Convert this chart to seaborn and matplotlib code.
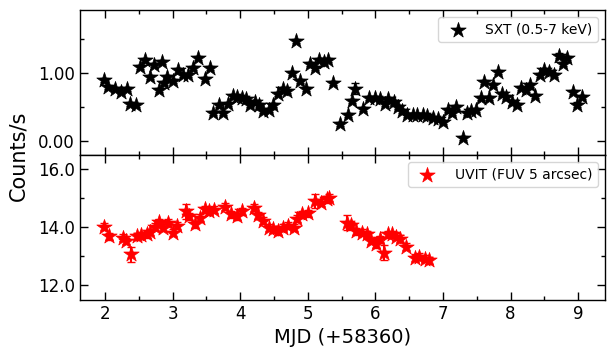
import numpy as np
import pandas as pd
import seaborn as sns
import matplotlib.pyplot as plt
from matplotlib.ticker import MultipleLocator, FormatStrFormatter

# SXT (0.5-7 keV) light curve
sxt_mjd = [1.99, 2.05, 2.15, 2.23, 2.32, 2.37, 2.46, 2.52, 2.59, 2.67, 2.72, 2.80,
           2.85, 2.87, 2.92, 3.01, 3.08, 3.16, 3.23, 3.30, 3.38, 3.48, 3.56, 3.60,
           3.68, 3.74, 3.82, 3.89, 3.96, 4.02, 4.09, 4.14, 4.22, 4.28, 4.34, 4.42,
           4.49, 4.56, 4.63, 4.70, 4.76, 4.83, 4.89, 4.97, 5.03, 5.11, 5.17, 5.24,
           5.30, 5.38, 5.47, 5.59, 5.65, 5.70, 5.82, 5.91, 5.99, 6.07, 6.14, 6.19,
           6.27, 6.34, 6.40, 6.47, 6.55, 6.62, 6.70, 6.77, 6.85, 6.93, 7.00, 7.08,
           7.14, 7.20, 7.29, 7.35, 7.42, 7.49, 7.56, 7.61, 7.68, 7.74, 7.82, 7.88,
           7.94, 8.02, 8.09, 8.15, 8.23, 8.29, 8.36, 8.43, 8.49, 8.57, 8.64, 8.71,
           8.77, 8.84, 8.92, 8.98, 9.05]
sxt_rate = [0.90, 0.80, 0.77, 0.72, 0.77, 0.55, 0.53, 1.09, 1.19, 0.95, 1.12, 0.75,
            1.16, 0.85, 0.95, 0.88, 1.04, 0.97, 0.97, 1.07, 1.23, 0.92, 1.07, 0.41,
            0.53, 0.42, 0.55, 0.67, 0.65, 0.64, 0.62, 0.53, 0.57, 0.53, 0.44, 0.46,
            0.53, 0.69, 0.77, 0.74, 1.00, 1.47, 0.88, 0.77, 1.14, 1.08, 1.19, 1.17,
            1.19, 0.85, 0.26, 0.39, 0.59, 0.77, 0.48, 0.64, 0.63, 0.62, 0.55, 0.62,
            0.57, 0.50, 0.44, 0.39, 0.39, 0.38, 0.39, 0.37, 0.34, 0.33, 0.28, 0.46,
            0.42, 0.50, 0.05, 0.41, 0.44, 0.46, 0.64, 0.87, 0.64, 0.83, 1.02, 0.70,
            0.65, 0.57, 0.53, 0.78, 0.75, 0.83, 0.67, 0.98, 1.04, 1.02, 0.97, 1.26,
            1.13, 1.22, 0.73, 0.54, 0.65]
sxt_err = [0.03] * len(sxt_rate)
sxt_err[sxt_mjd.index(5.70)] = 0.08

# UVIT (FUV 5 arcsec) light curve
uv_mjd = [1.99, 2.06, 2.26, 2.31, 2.39, 2.47, 2.54, 2.62, 2.67, 2.74, 2.80, 2.86,
          2.94, 3.01, 3.07, 3.20, 3.25, 3.33, 3.40, 3.48, 3.54, 3.61, 3.77, 3.86,
          3.95, 4.02, 4.20, 4.26, 4.34, 4.42, 4.49, 4.56, 4.64, 4.71, 4.79, 4.84,
          4.92, 5.01, 5.11, 5.19, 5.28, 5.32, 5.58, 5.64, 5.72, 5.81, 5.88, 5.94,
          6.01, 6.07, 6.13, 6.18, 6.24, 6.30, 6.37, 6.45, 6.58, 6.65, 6.73, 6.80]
uv_rate = [14.02, 13.70, 13.64, 13.53, 13.07, 13.70, 13.72, 13.76, 13.84, 14.02,
           14.18, 13.99, 14.16, 13.82, 14.05, 14.55, 14.39, 14.10, 14.33, 14.62,
           14.56, 14.60, 14.71, 14.45, 14.39, 14.56, 14.68, 14.42, 14.22, 13.99,
           13.93, 13.87, 13.99, 14.05, 13.99, 14.30, 14.45, 14.48, 14.91, 14.85,
           14.97, 15.02, 14.16, 14.07, 13.87, 13.82, 13.76, 13.53, 13.41, 13.59,
           13.13, 13.76, 13.76, 13.68, 13.61, 13.33, 12.96, 12.99, 12.92, 12.87]
uv_err = [0.12] * len(uv_rate)
for m in (2.39, 3.20, 5.11, 5.58, 6.13):
    uv_err[uv_mjd.index(m)] = 0.25

sxt = pd.DataFrame({"mjd": sxt_mjd, "rate": sxt_rate, "err": sxt_err})
uv = pd.DataFrame({"mjd": uv_mjd, "rate": uv_rate, "err": uv_err})

sns.set_style("white")
plt.rcParams["font.family"] = ["DejaVu Sans"]
plt.rcParams["text.color"] = "k"
plt.rcParams["axes.labelcolor"] = "k"

fig, ax = plt.subplots(2, 1, figsize=(6.15, 3.54), dpi=100, sharex=True)
fig.subplots_adjust(left=0.130, right=0.984, top=0.972, bottom=0.153, hspace=0)

ax[0].errorbar(sxt.mjd, sxt.rate, yerr=sxt.err, fmt="none", ecolor="k",
               elinewidth=1.5, capsize=3, zorder=1)
sns.scatterplot(data=sxt, x="mjd", y="rate", marker="*", s=135, color="k",
                edgecolor="k", linewidth=0.5, ax=ax[0], label="SXT (0.5-7 keV)", zorder=2)

ax[1].errorbar(uv.mjd, uv.rate, yerr=uv.err, fmt="none", ecolor="r",
               elinewidth=1.5, capsize=3, zorder=1)
sns.scatterplot(data=uv, x="mjd", y="rate", marker="*", s=135, color="r",
                edgecolor="r", linewidth=0.5, ax=ax[1], label="UVIT (FUV 5 arcsec)", zorder=2)

ax[0].set_ylim(-0.2, 1.93)
ax[1].set_ylim(11.5, 16.5)
ax[1].set_xlim(1.63, 9.4)

ax[0].yaxis.set_major_locator(MultipleLocator(1))
ax[0].yaxis.set_minor_locator(MultipleLocator(0.5))
ax[0].yaxis.set_major_formatter(FormatStrFormatter("%.2f"))
ax[1].yaxis.set_major_locator(MultipleLocator(2))
ax[1].yaxis.set_minor_locator(MultipleLocator(1))
ax[1].yaxis.set_major_formatter(FormatStrFormatter("%.1f"))
ax[1].xaxis.set_major_locator(MultipleLocator(1))
ax[1].xaxis.set_minor_locator(MultipleLocator(0.5))

for a in ax:
    a.set_xlabel("")
    a.set_ylabel("")
    for s in a.spines.values():
        s.set_color("k")
        s.set_linewidth(1.0)
    a.tick_params(which="both", direction="in", top=True, right=True,
                  bottom=True, left=True, colors="k", labelsize=12)
    a.tick_params(which="major", length=6, width=1)
    a.tick_params(which="minor", length=3, width=1)
    leg = a.legend(loc="upper right", fontsize=10, handletextpad=1.0, borderpad=0.4)
    for t in leg.get_texts():
        t.set_color("k")

ax[1].set_xlabel("MJD (+58360)", fontsize=14)
fig.text(0.03, 0.56, "Counts/s", rotation=90, va="center", ha="center", fontsize=15)

fig.savefig("out.png", dpi=100)
